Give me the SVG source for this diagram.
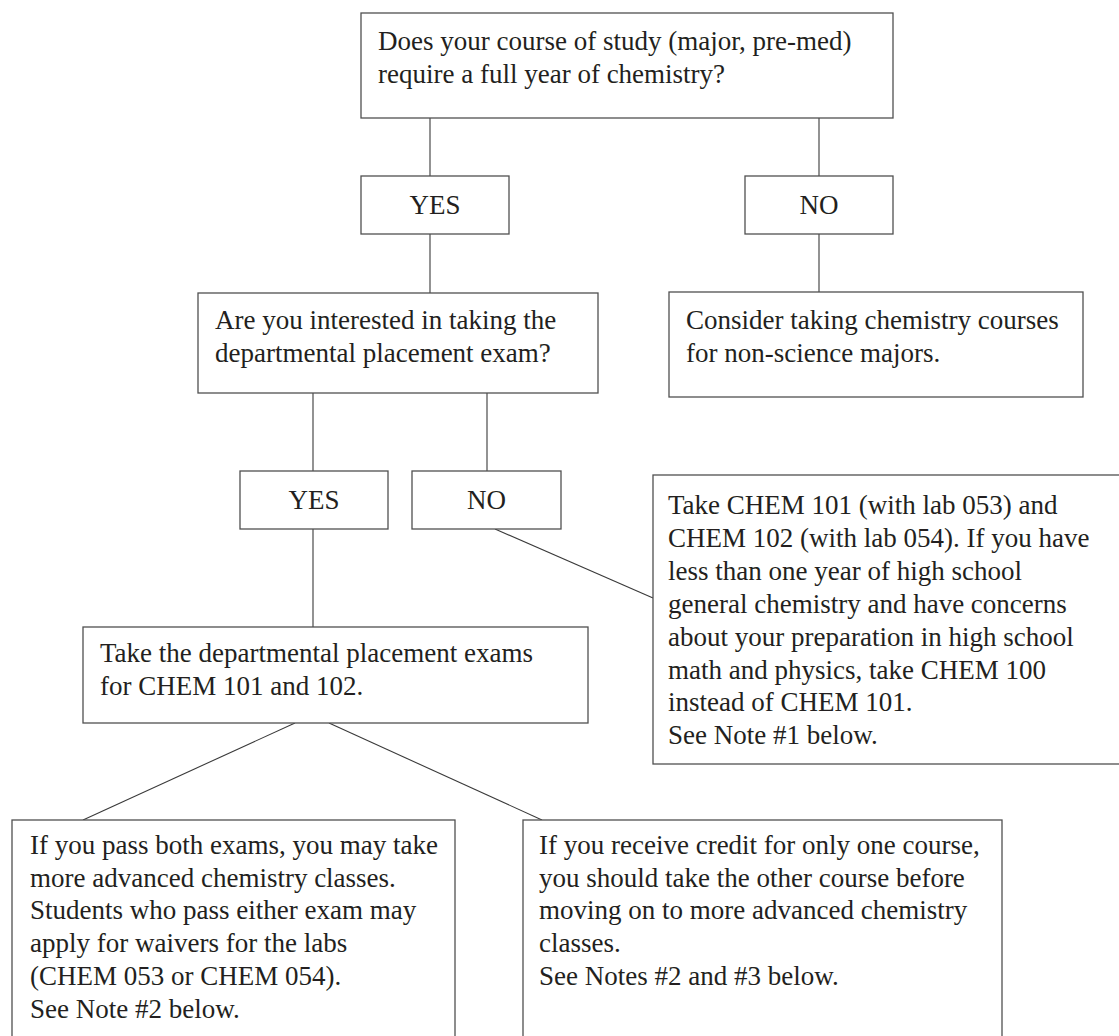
<svg xmlns="http://www.w3.org/2000/svg" width="1119" height="1036" viewBox="0 0 1119 1036">
<style>
.box{fill:#ffffff;stroke:#505050;stroke-width:1.3}
.ln{fill:none;stroke:#3a3a3a;stroke-width:1.1}
text{font-family:"Liberation Serif","Times New Roman",serif;font-size:27px;fill:#231f20}
.c{text-anchor:middle}
</style>
<rect width="1119" height="1036" fill="#ffffff"/>
<g id="connectors">
<line class="ln" x1="430" y1="118" x2="430" y2="176"/>
<line class="ln" x1="430" y1="234" x2="430" y2="293"/>
<line class="ln" x1="819" y1="118" x2="819" y2="176"/>
<line class="ln" x1="819" y1="234" x2="819" y2="292"/>
<line class="ln" x1="313" y1="393" x2="313" y2="471"/>
<line class="ln" x1="487" y1="393" x2="487" y2="471"/>
<line class="ln" x1="313" y1="529" x2="313" y2="627"/>
<line class="ln" x1="495" y1="529" x2="653" y2="598"/>
<line class="ln" x1="295" y1="723" x2="83" y2="820"/>
<line class="ln" x1="329" y1="723" x2="542" y2="820"/>
</g>
<g id="q1">
<rect class="box" x="361" y="13" width="532" height="105"/>
<text x="378" y="50">Does your course of study (major, pre-med)</text>
<text x="378" y="83">require a full year of chemistry?</text>
</g>
<g id="yes1">
<rect class="box" x="361" y="176" width="148" height="58"/>
<text class="c" x="435" y="214">YES</text>
</g>
<g id="no1">
<rect class="box" x="745" y="176" width="148" height="58"/>
<text class="c" x="819" y="214">NO</text>
</g>
<g id="q2">
<rect class="box" x="198" y="293" width="400" height="100"/>
<text x="215" y="329">Are you interested in taking the</text>
<text x="215" y="362">departmental placement exam?</text>
</g>
<g id="nonsci">
<rect class="box" x="669" y="292" width="414" height="105"/>
<text x="686" y="329">Consider taking chemistry courses</text>
<text x="686" y="362">for non-science majors.</text>
</g>
<g id="yes2">
<rect class="box" x="240" y="471" width="148" height="58"/>
<text class="c" x="314" y="509">YES</text>
</g>
<g id="no2">
<rect class="box" x="412" y="471" width="149" height="58"/>
<text class="c" x="486.5" y="509">NO</text>
</g>
<g id="chem101">
<rect class="box" x="653" y="475" width="480" height="289"/>
<text x="668" y="514">Take CHEM 101 (with lab 053) and</text>
<text x="668" y="547">CHEM 102 (with lab 054). If you have</text>
<text x="668" y="580">less than one year of high school</text>
<text x="668" y="613">general chemistry and have concerns</text>
<text x="668" y="646">about your preparation in high school</text>
<text x="668" y="679">math and physics, take CHEM 100</text>
<text x="668" y="711">instead of CHEM 101.</text>
<text x="668" y="744">See Note #1 below.</text>
</g>
<g id="exams">
<rect class="box" x="83" y="627" width="505" height="96"/>
<text x="100" y="662">Take the departmental placement exams</text>
<text x="100" y="695">for CHEM 101 and 102.</text>
</g>
<g id="passboth">
<rect class="box" x="12" y="820" width="443" height="240"/>
<text x="30" y="854">If you pass both exams, you may take</text>
<text x="30" y="886.7">more advanced chemistry classes.</text>
<text x="30" y="919.4">Students who pass either exam may</text>
<text x="30" y="952.1">apply for waivers for the labs</text>
<text x="30" y="984.8">(CHEM 053 or CHEM 054).</text>
<text x="30" y="1017.5">See Note #2 below.</text>
</g>
<g id="onecredit">
<rect class="box" x="523" y="820" width="479" height="240"/>
<text x="539" y="854">If you receive credit for only one course,</text>
<text x="539" y="886.7">you should take the other course before</text>
<text x="539" y="919.4">moving on to more advanced chemistry</text>
<text x="539" y="952.1">classes.</text>
<text x="539" y="984.8">See Notes #2 and #3 below.</text>
</g>
</svg>
